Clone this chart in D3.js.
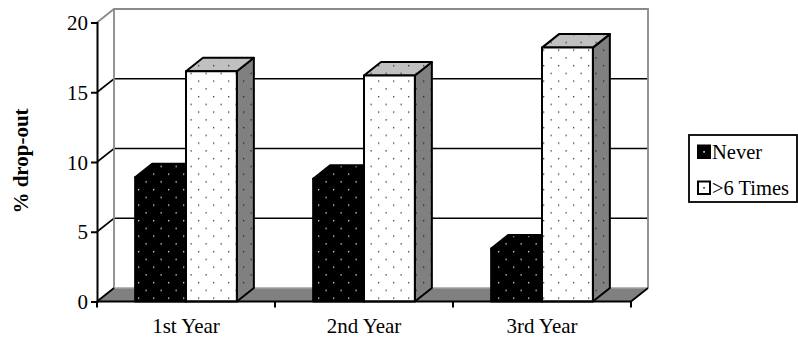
<!DOCTYPE html>
<html>
<head>
<meta charset="utf-8">
<script src="https://cdn.jsdelivr.net/npm/d3@7"></script>
<style>
  html, body { margin: 0; padding: 0; background: #fff; }
  svg { display: block; }
  svg text { font-family: "Liberation Serif", "Times New Roman", Times, "DejaVu Serif", serif !important; fill: #000; }
</style>
</head>
<body>
<svg id="chart" width="798" height="340"></svg>
<script>
// Drop-out rates by year and frequency
const categories = ["1st Year", "2nd Year", "3rd Year"];
const seriesNames = ["Never", ">6 Times"];
const neverValues = [8.9, 8.8, 3.8];
const sixPlusValues = [16.5, 16.2, 18.2];
const yTicks = [0, 5, 10, 15, 20];

const seriesValues = [neverValues, sixPlusValues];
const serif = "'Liberation Serif', 'Times New Roman', Times, 'DejaVu Serif', serif";

const svg = d3.select("#chart");

// 3D projection: depth offset of the back wall relative to the front plane
const dx = 17, dy = -13.5;

const x0 = d3.scaleBand().domain(categories).range([97, 631]).padding(0);
const x1 = d3.scaleBand().domain(seriesNames).range([0, x0.bandwidth()])
  .paddingInner(0).paddingOuter(0.75);
const y = d3.scaleLinear().domain([0, 20]).range([301.5, 22.5]);

// Fill patterns (dotted textures)
const defs = svg.append("defs");
function dotPattern(id, bg, dot) {
  const p = defs.append("pattern").attr("id", id)
    .attr("patternUnits", "userSpaceOnUse")
    .attr("width", 15).attr("height", 15.5);
  p.append("rect").attr("width", 15).attr("height", 15.5).attr("fill", bg);
  p.append("rect").attr("x", 3).attr("y", 3).attr("width", 1.3).attr("height", 1.3).attr("fill", dot);
  p.append("rect").attr("x", 10.5).attr("y", 10.75).attr("width", 1.3).attr("height", 1.3).attr("fill", dot);
}
dotPattern("pNeverFront", "#000", "#e8e8e8");
dotPattern("pNeverTop", "#000", "#e8e8e8");
dotPattern("pNeverSide", "#000", "#cfcfcf");
dotPattern("pSixFront", "#fff", "#333");
dotPattern("pSixTop", "#c0c0c0", "#333");
dotPattern("pSixSide", "#808080", "#222");

const fills = [
  { front: "url(#pNeverFront)", top: "url(#pNeverTop)", side: "url(#pNeverSide)" },
  { front: "url(#pSixFront)", top: "url(#pSixTop)", side: "url(#pSixSide)" }
];

const xL = x0.range()[0], xR = x0.range()[1];
const y0 = y(0), yTop = y(20);

// Walls
const walls = svg.append("g");
walls.append("polygon")
  .attr("points", [[xL, y0], [xL, yTop], [xL + dx, yTop + dy], [xL + dx, y0 + dy]].join(" "))
  .attr("fill", "#fff");
walls.append("rect")
  .attr("x", xL + dx).attr("y", yTop + dy)
  .attr("width", xR - xL).attr("height", y0 - yTop)
  .attr("fill", "#fff");

// Gridlines on side and back walls
yTicks.filter(v => v > 0 && v < 20).forEach(v => {
  const yy = y(v);
  walls.append("polyline")
    .attr("points", [[xL, yy], [xL + dx, yy + dy], [xR + dx, yy + dy]].join(" "))
    .attr("fill", "none").attr("stroke", "#000").attr("stroke-width", 1.6);
});

// Back wall border
walls.append("polyline")
  .attr("points", [[xL, yTop], [xL + dx, yTop + dy], [xR + dx, yTop + dy], [xR + dx, y0 + dy]].join(" "))
  .attr("fill", "none").attr("stroke", "#8a8a8a").attr("stroke-width", 1.8);
walls.append("line")
  .attr("x1", xL + dx).attr("y1", yTop + dy).attr("x2", xL + dx).attr("y2", y0 + dy)
  .attr("stroke", "#8a8a8a").attr("stroke-width", 1.8);

// Floor
walls.append("polygon")
  .attr("points", [[xL, y0], [xR, y0], [xR + dx, y0 + dy], [xL + dx, y0 + dy]].join(" "))
  .attr("fill", "#808080");
walls.append("line")
  .attr("x1", xL + dx).attr("y1", y0 + dy).attr("x2", xR + dx).attr("y2", y0 + dy)
  .attr("stroke", "#a0a0a0").attr("stroke-width", 1.5);
walls.append("line")
  .attr("x1", xL).attr("y1", y0).attr("x2", xL + dx).attr("y2", y0 + dy)
  .attr("stroke", "#000").attr("stroke-width", 1.8);
walls.append("line")
  .attr("x1", xR).attr("y1", y0).attr("x2", xR + dx).attr("y2", y0 + dy)
  .attr("stroke", "#000").attr("stroke-width", 1.8);

// Bars drawn as boxes: front, top and right side faces
const bars = svg.append("g");
categories.forEach((cat, ci) => {
  seriesNames.forEach((s, si) => {
    const v = seriesValues[si][ci];
    const bx = x0(cat) + x1(s);
    const w = x1.bandwidth();
    const yv = y(v);
    const g = bars.append("g")
      .attr("stroke", "#000").attr("stroke-width", 2).attr("stroke-linejoin", "round");
    g.append("polygon")
      .attr("points", [[bx + w, yv], [bx + w + dx, yv + dy], [bx + w + dx, y0 + dy], [bx + w, y0]].join(" "))
      .attr("fill", fills[si].side);
    g.append("polygon")
      .attr("points", [[bx, yv], [bx + dx, yv + dy], [bx + w + dx, yv + dy], [bx + w, yv]].join(" "))
      .attr("fill", fills[si].top);
    g.append("rect")
      .attr("x", bx).attr("y", yv).attr("width", w).attr("height", y0 - yv)
      .attr("fill", fills[si].front);
  });
});

// Value axis
const yAxis = svg.append("g").attr("transform", `translate(${xL},0)`)
  .call(d3.axisLeft(y).tickValues(yTicks).tickSize(6).tickPadding(3).tickFormat(d3.format("d")));
yAxis.attr("font-family", serif).attr("font-size", 21);
yAxis.select(".domain").attr("stroke", "#000").attr("stroke-width", 2);
yAxis.selectAll(".tick line").attr("stroke", "#000").attr("stroke-width", 2);
yAxis.selectAll(".tick text")
  .attr("dy", null).attr("y", 7).attr("fill", "#000");

// Category axis
const catBounds = categories.map(c => x0(c)).concat([xR]);
const xAxisG = svg.append("g").attr("font-family", serif);
xAxisG.append("line")
  .attr("x1", xL).attr("y1", y0).attr("x2", xR).attr("y2", y0)
  .attr("stroke", "#000").attr("stroke-width", 2);
xAxisG.selectAll("line.tk").data(catBounds).join("line").attr("class", "tk")
  .attr("x1", d => d).attr("x2", d => d).attr("y1", y0).attr("y2", y0 + 6)
  .attr("stroke", "#000").attr("stroke-width", 2);
xAxisG.selectAll("text").data(categories).join("text")
  .attr("x", d => x0(d) + x0.bandwidth() / 2).attr("y", 333)
  .attr("text-anchor", "middle").attr("font-size", 21)
  .text(d => d);

// Axis title
svg.append("text")
  .attr("transform", "translate(28,161) rotate(-90)")
  .attr("font-family", serif)
  .attr("text-anchor", "middle").attr("font-size", 21).attr("font-weight", "bold")
  .text("% drop-out");

// Legend
const legend = svg.append("g").attr("font-family", serif);
legend.append("rect")
  .attr("x", 689).attr("y", 135).attr("width", 108).attr("height", 67)
  .attr("fill", "#fff").attr("stroke", "#000").attr("stroke-width", 1.8);
const legendRows = [
  { name: seriesNames[0], bg: "#000", dot: "#fff", y: 145.5 },
  { name: seriesNames[1], bg: "#fff", dot: "#000", y: 181.5 }
];
legendRows.forEach(r => {
  legend.append("rect")
    .attr("x", 698).attr("y", r.y).attr("width", 12).attr("height", 12.5)
    .attr("fill", r.bg).attr("stroke", "#000").attr("stroke-width", 2);
  legend.append("rect")
    .attr("x", 703.3).attr("y", r.y + 5.6).attr("width", 1.5).attr("height", 1.5)
    .attr("fill", r.dot);
  legend.append("text")
    .attr("x", 712).attr("y", r.y + 13.2).attr("font-size", 20.5)
    .text(r.name);
});
</script>
</body>
</html>
